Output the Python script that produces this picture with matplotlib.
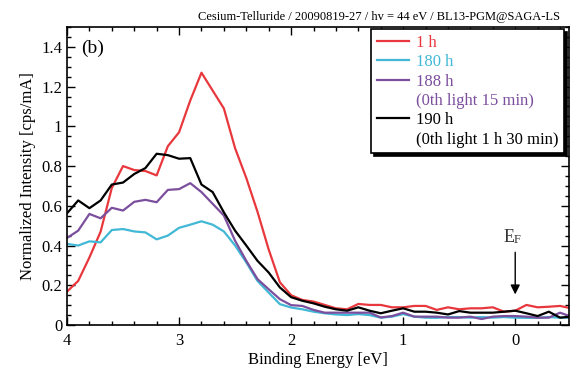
import numpy as np
import matplotlib
matplotlib.use("Agg")
import matplotlib.pyplot as plt
from matplotlib.lines import Line2D
from matplotlib.ticker import MultipleLocator, FixedLocator

plt.rcParams['font.family'] = ['Liberation Serif', 'DejaVu Serif']

energy = [4.0, 3.9, 3.8, 3.7, 3.6, 3.5, 3.4, 3.3, 3.2, 3.1, 3.0, 2.9, 2.8, 2.7, 2.6,
          2.5, 2.4, 2.3, 2.2, 2.1, 2.0, 1.9, 1.8, 1.7, 1.6, 1.5, 1.4, 1.3, 1.2, 1.1,
          1.0, 0.9, 0.8, 0.7, 0.6, 0.5, 0.4, 0.3, 0.2, 0.1, 0.0, -0.1, -0.2, -0.3,
          -0.4, -0.5]

int_1h = [0.168, 0.222, 0.34, 0.47, 0.69, 0.80, 0.78, 0.775, 0.753, 0.90, 0.97, 1.13,
          1.27, 1.18, 1.09, 0.89, 0.74, 0.57, 0.38, 0.215, 0.15, 0.126, 0.118, 0.101,
          0.084, 0.079, 0.106, 0.101, 0.101, 0.089, 0.089, 0.096, 0.096, 0.076, 0.089,
          0.079, 0.084, 0.084, 0.089, 0.067, 0.072, 0.101, 0.089, 0.092, 0.096, 0.084]

int_180h = [0.408, 0.40, 0.421, 0.416, 0.478, 0.483, 0.471, 0.466, 0.431, 0.45, 0.489,
            0.505, 0.522, 0.505, 0.471, 0.40, 0.315, 0.222, 0.163, 0.105, 0.088, 0.079,
            0.067, 0.059, 0.053, 0.05, 0.055, 0.05, 0.037, 0.042, 0.055, 0.042, 0.037,
            0.036, 0.04, 0.04, 0.037, 0.04, 0.037, 0.04, 0.037, 0.036, 0.036, 0.04,
            0.037, 0.037]

int_188h = [0.438, 0.475, 0.559, 0.537, 0.59, 0.576, 0.62, 0.63, 0.618, 0.68, 0.684,
            0.714, 0.669, 0.61, 0.551, 0.424, 0.323, 0.231, 0.18, 0.13, 0.10, 0.096,
            0.076, 0.062, 0.062, 0.062, 0.062, 0.062, 0.038, 0.045, 0.062, 0.042, 0.042,
            0.042, 0.037, 0.037, 0.042, 0.03, 0.042, 0.045, 0.045, 0.042, 0.037, 0.037,
            0.062, 0.042]

int_190h = [0.562, 0.627, 0.588, 0.627, 0.707, 0.717, 0.76, 0.79, 0.862, 0.855, 0.837,
            0.84, 0.707, 0.669, 0.567, 0.475, 0.40, 0.323, 0.264, 0.189, 0.14, 0.122,
            0.109, 0.092, 0.079, 0.072, 0.089, 0.072, 0.059, 0.072, 0.084, 0.067, 0.067,
            0.062, 0.053, 0.07, 0.062, 0.062, 0.062, 0.067, 0.072, 0.059, 0.045, 0.067,
            0.037, 0.042]

x_ticks = [4, 3, 2, 1, 0]
x_ticklabels = ['4', '3', '2', '1', '0']
y_ticks = [0, 0.2, 0.4, 0.6, 0.8, 1.0, 1.2, 1.4]
y_ticklabels = ['0', '0.2', '0.4', '0.6', '0.8', '1', '1.2', '1.4']

c_red = '#e8383d'
c_cyan = '#41b8d5'
c_purple = '#7b4f9d'
c_black = '#000000'

fig = plt.figure(figsize=(5.7, 3.8), dpi=100)
ax = fig.add_axes([67/570, 1-325/380, 502/570, 298/380])

lw = 1.6
ax.plot(energy, int_1h, color=c_red, lw=lw)
ax.plot(energy, int_180h, color=c_cyan, lw=lw)
ax.plot(energy, int_188h, color=c_purple, lw=lw)
ax.plot(energy, int_190h, color=c_black, lw=lw)

ax.set_xlim(4, -0.48)
ax.set_ylim(0, 1.5)
ax.xaxis.set_major_locator(FixedLocator(x_ticks))
ax.set_xticklabels(x_ticklabels)
ax.xaxis.set_minor_locator(MultipleLocator(0.2))
ax.yaxis.set_major_locator(FixedLocator(y_ticks))
ax.set_yticklabels(y_ticklabels)
ax.yaxis.set_minor_locator(MultipleLocator(0.05))
ax.tick_params(which='both', direction='in', top=True, right=True, labelsize=12,
               width=1.0, colors='black')
ax.tick_params(which='major', length=6)
ax.tick_params(which='minor', length=3)
ax.tick_params(axis='x', pad=6)
for sp in ax.spines.values():
    sp.set_linewidth(1.2)

ax.set_xlabel('Binding Energy [eV]', fontsize=12, labelpad=2)
ax.set_ylabel('Normalized Intensity [cps/mA]', fontsize=12, labelpad=4)

ax.text(0.028, 0.93, '(b)', transform=ax.transAxes, fontsize=14, va='center', ha='left')

fig.text(560/570, 1-17/380, 'Cesium-Telluride / 20090819-27 / hv = 44 eV / BL13-PGM@SAGA-LS',
         ha='right', va='center', fontsize=9)

# E_F arrow
ax.annotate('', xy=(0, 0.14), xytext=(0, 0.38),
            arrowprops=dict(arrowstyle='-|>', color='black', lw=1.0, mutation_scale=14))
ax.text(0.01, 0.40, 'E', fontsize=13, ha='right', va='bottom', color='#333333')
ax.text(0.01, 0.40, 'F', fontsize=9, ha='left', va='bottom', color='#333333')

handles = [Line2D([], [], color=c_red, lw=lw),
           Line2D([], [], color=c_cyan, lw=lw),
           Line2D([], [], color=c_purple, lw=lw),
           Line2D([], [], color='none', lw=0),
           Line2D([], [], color=c_black, lw=lw),
           Line2D([], [], color='none', lw=0)]
labels = ['1 h', '180 h', '188 h', '(0th light 15 min)', '190 h', '(0th light 1 h 30 min)']
label_colors = [c_red, c_cyan, c_purple, c_purple, c_black, c_black]
leg = ax.legend(handles, labels, loc='upper right', bbox_to_anchor=(0.99, 0.993),
                borderaxespad=0, fontsize=12, frameon=True, fancybox=False,
                edgecolor='black', framealpha=1, handlelength=1.9, handletextpad=0.4,
                labelspacing=0.2, borderpad=0.35,
                shadow={'color': 'black', 'alpha': 1.0, 'ox': 2, 'oy': -2},
                labelcolor=label_colors)
leg.get_frame().set_linewidth(1.2)

fig.savefig('out.png', dpi=100)
